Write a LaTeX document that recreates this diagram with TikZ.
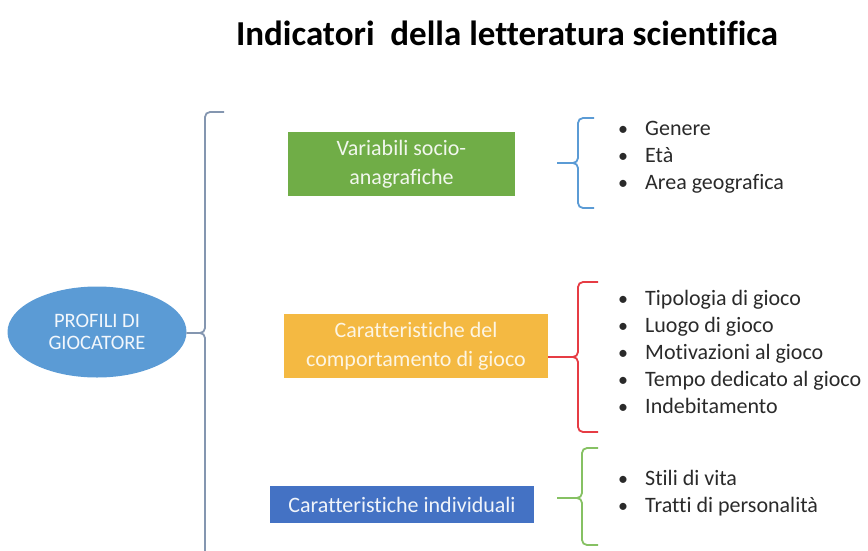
\documentclass[tikz,border=0pt]{standalone}
\usepackage{fontspec}
\setmainfont{Carlito}[Ligatures=NoCommon]
\usetikzlibrary{shapes.geometric}
\definecolor{ellblue}{HTML}{5B9BD5}
\definecolor{boxgreen}{HTML}{70AD47}
\definecolor{boxyellow}{HTML}{F4B942}
\definecolor{boxblue}{HTML}{4472C4}
\definecolor{brgray}{HTML}{8496B0}
\definecolor{brblue}{HTML}{5B9BD5}
\definecolor{brred}{HTML}{E63C44}
\definecolor{brgreen}{HTML}{86C163}
\definecolor{itemtext}{HTML}{2A2A2A}
\begin{document}
\begin{tikzpicture}[x=1pt,y=-1pt,
  catbox/.style={rectangle, inner sep=0pt, align=center, font=\fontsize{22}{29}\selectfont},
  bracepath/.style={line width=1.8pt, rounded corners=5pt},
  itemtxt/.style={anchor=base west, inner sep=0pt, text=itemtext, font=\fontsize{22}{26}\selectfont},
  bul/.style={anchor=base, inner sep=0pt, text=itemtext, font=\fontsize{20}{24}\selectfont}]
\useasboundingbox (0,0) rectangle (868,550);
% title
\node[anchor=base, inner sep=0pt, font=\fontsize{35}{39}\bfseries\selectfont] (title) at (507,45) {Indicatori\ \ della letteratura scientifica};
% root ellipse
\node[ellipse, fill=ellblue, minimum width=179pt, minimum height=91pt, inner sep=0pt, align=center, text=white!92!ellblue, font=\fontsize{20.5}{21.5}\selectfont] (prof) at (97,332) {PROFILI DI\\GIOCATORE};
% category boxes
\node[catbox, fill=boxgreen, minimum width=227pt, minimum height=64pt, text=white!90!boxgreen] (var) at (401.5,164) {Variabili socio-\\anagrafiche};
\node[catbox, fill=boxyellow, minimum width=264pt, minimum height=64pt, text=white!85!boxyellow] (comp) at (416,346) {Caratteristiche del\\comportamento di gioco};
\node[catbox, fill=boxblue, minimum width=264pt, minimum height=37pt, text=white!92!boxblue] (ind) at (402,504.5) {Caratteristiche individuali};
% gray brace
\coordinate (gt) at (224,112);
\coordinate (gb) at (224,560);
\coordinate (gm) at (205,333);
\draw[bracepath, brgray] (gt) -- (205,112) -- (gm) -- (prof.east |- gm);
\draw[bracepath, brgray] (gb) -- (205,560) -- (gm) -- (prof.east |- gm);
% blue brace
\coordinate (bt) at (594,118);
\coordinate (bb) at (594,208);
\coordinate (bm) at (578,163);
\coordinate (bl) at (557,163);
\draw[bracepath, brblue] (bt) -- (578,118) -- (bm) -- (bl);
\draw[bracepath, brblue] (bb) -- (578,208) -- (bm) -- (bl);
% red brace
\coordinate (rt) at (598,282);
\coordinate (rb) at (598,432);
\coordinate (rm) at (578,357);
\draw[bracepath, brred] (rt) -- (578,282) -- (rm) -- (comp.east |- rm);
\draw[bracepath, brred] (rb) -- (578,432) -- (rm) -- (comp.east |- rm);
% green brace
\coordinate (ggt) at (598,448);
\coordinate (ggb) at (598,545);
\coordinate (ggm) at (582,498);
\coordinate (ggl) at (557,498);
\draw[bracepath, brgreen] (ggt) -- (582,448) -- (ggm) -- (ggl);
\draw[bracepath, brgreen] (ggb) -- (582,545) -- (ggm) -- (ggl);
% items
\foreach \t [count=\i] in {Genere, Età, Area geografica} {
  \node[bul] (ab\i) at (623,{135+27*(\i-1)}) {\textbullet};
  \node[itemtxt] (a\i) at (645,{135+27*(\i-1)}) {\t};
}
\foreach \t [count=\i] in {Tipologia di gioco, Luogo di gioco, Motivazioni al gioco, Tempo dedicato al gioco, Indebitamento} {
  \node[bul] (bb\i) at (623,{305+27*(\i-1)}) {\textbullet};
  \node[itemtxt] (b\i) at (645,{305+27*(\i-1)}) {\t};
}
\foreach \t [count=\i] in {Stili di vita, Tratti di personalità} {
  \node[bul] (cb\i) at (623,{485+27*(\i-1)}) {\textbullet};
  \node[itemtxt] (c\i) at (645,{485+27*(\i-1)}) {\t};
}
\end{tikzpicture}
\end{document}
